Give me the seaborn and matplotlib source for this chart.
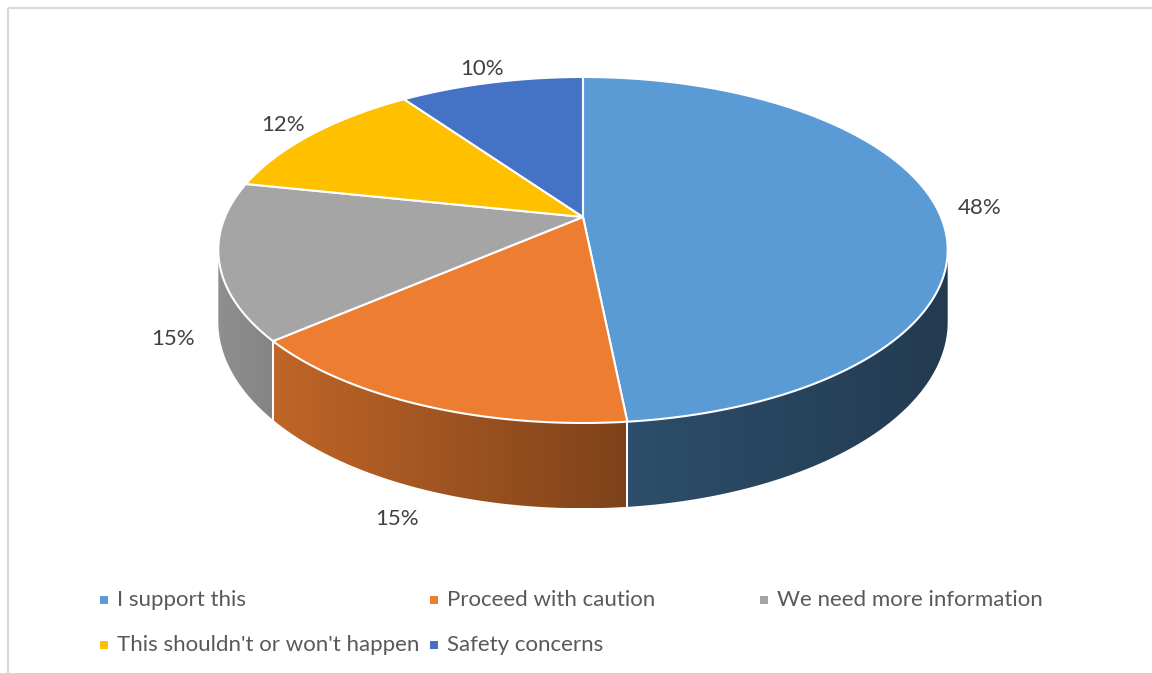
import numpy as np
import matplotlib.pyplot as plt
import seaborn as sns
from matplotlib.patches import Polygon, Rectangle
from matplotlib.colors import to_rgb

# --- data ---
categories = ["I support this", "Proceed with caution", "We need more information",
              "This shouldn't or won't happen", "Safety concerns"]
shares = [48.4, 15.3, 14.6, 11.9, 9.8]
colors = ["#5B9BD5", "#ED7D31", "#A5A5A5", "#FFC000", "#4472C4"]
# side-wall shading (left end, right end) as a fraction of the top colour
wall_shade = [(0.50, 0.38), (0.81, 0.53), (0.87, 0.80), (0.6, 0.5), (0.6, 0.5)]

sns.set_theme(style="white")
plt.rcParams['font.family'] = ['Lato', 'DejaVu Sans']

W, H = 1152, 673
fig = plt.figure(figsize=(W / 100, H / 100), dpi=100)
ax = fig.add_axes([0, 0, 1, 1])
ax.axis('off')

# perspective pie geometry, in pixels
cx, cy = 583, 217
A, B, k, D = 358, 166.7, 0.1907, 69


def proj(theta, r=1.0):
    """theta clockwise from top; returns screen x, y and wall depth."""
    x = r * np.sin(theta)
    y = -r * np.cos(theta)
    w = 1 - k * y
    return cx + A * x / w, cy + B * y / w, D / w


frac = np.array(shares) / np.sum(shares)
edges = np.concatenate([[0], np.cumsum(frac)]) * 2 * np.pi
vis_lo = np.arccos(-k)
vis_hi = 2 * np.pi - vis_lo

# side walls: horizontal gradient clipped to the wall outline
for i, col in enumerate(colors):
    a, b = max(edges[i], vis_lo), min(edges[i + 1], vis_hi)
    if b <= a:
        continue
    ts = np.linspace(a, b, 200)
    X, Y, d = proj(ts)
    outline = np.vstack([np.c_[X, Y], np.c_[X[::-1], (Y + d)[::-1]]])
    wall = Polygon(outline, closed=True, fc="none", ec="none")
    ax.add_patch(wall)
    grad = np.linspace(wall_shade[i][0], wall_shade[i][1], 256)
    img = np.clip(np.array(to_rgb(col))[None, None, :] * grad[None, :, None], 0, 1)
    im = ax.imshow(img, extent=[X.min(), X.max(), (Y + d).max(), Y.min()],
                   aspect="auto", interpolation="bilinear", zorder=1)
    im.set_clip_path(wall)
    # white boundary lines on the wall
    for t in (edges[i], edges[i + 1]):
        if vis_lo < t < vis_hi:
            x0, y0, d0 = proj(t)
            ax.plot([x0, x0], [y0, y0 + d0], color="white", lw=1.3, zorder=2)

# top faces
for i, col in enumerate(colors):
    ts = np.linspace(edges[i], edges[i + 1], 200)
    X, Y, _ = proj(ts)
    pts = [(cx, cy)] + list(zip(X, Y))
    ax.add_patch(Polygon(pts, closed=True, fc=col, ec="white", lw=1.5,
                         joinstyle="round", zorder=3))

# percentage labels
for i in range(len(shares)):
    mid = (edges[i] + edges[i + 1]) / 2
    x, y, d = proj(mid, 1.12)
    if -np.cos(mid) > 0:
        y += d
    ax.text(x, y, f"{frac[i] * 100:.0f}%", ha="center", va="center",
            fontsize=16, color="#404040", zorder=4)

# legend (Excel style: equal-width columns, filled row by row)
for i, (lab, col) in enumerate(zip(categories, colors)):
    r, c = divmod(i, 3)
    lx, ly = 104 + 330 * c, 600 + 45 * r
    ax.scatter([lx], [ly], marker="s", s=26, color=col, linewidths=0, zorder=4)
    ax.text(lx + 13, ly, lab, ha="left", va="center", fontsize=16,
            color="#595959", zorder=4)

# chart frame
ax.add_patch(Rectangle((7.5, 7.5), W, H, fill=False, ec="#d9d9d9", lw=1.5))

ax.set_xlim(0, W)
ax.set_ylim(H, 0)
fig.savefig("out.png", dpi=100)
